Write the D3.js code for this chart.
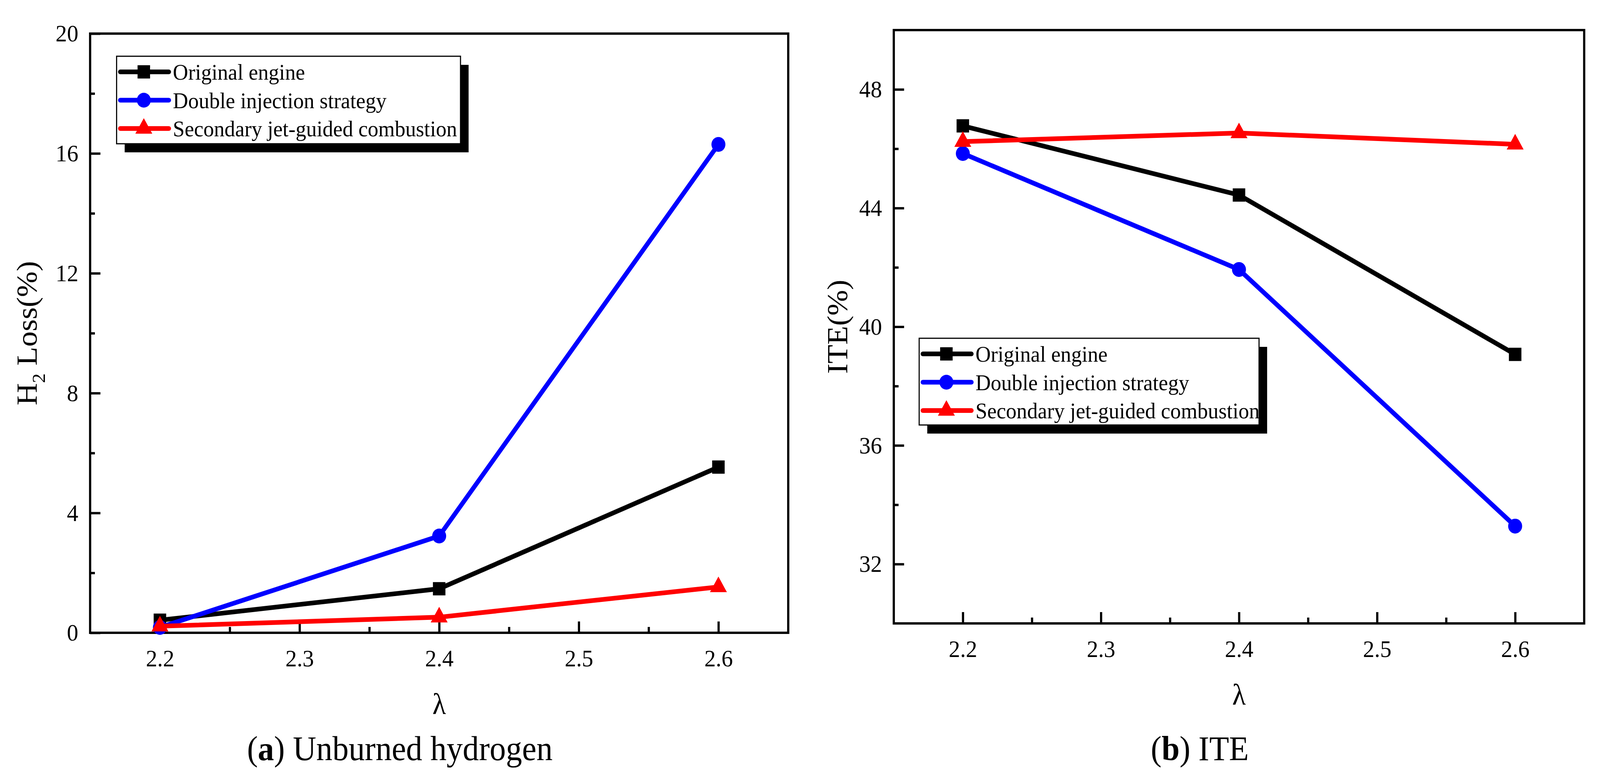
<!DOCTYPE html>
<html>
<head>
<meta charset="utf-8">
<script src="https://cdn.jsdelivr.net/npm/d3@7"></script>
<style>
  html, body { margin: 0; padding: 0; background: #fff; overflow: hidden; }
  svg { display: block; }
  text { font-family: 'Liberation Serif', 'Times New Roman', serif; fill: #000; }
</style>
</head>
<body>
<svg id="chart"></svg>
<script>
//data
const lambdaValues = [2.2, 2.4, 2.6]
const seriesNames = ['Original engine', 'Double injection strategy', 'Secondary jet-guided combustion']

// (a) unburned hydrogen, H2 loss in %
const h2Original = [0.42, 1.47, 5.53]
const h2Double = [0.18, 3.23, 16.3]
const h2Secondary = [0.22, 0.52, 1.53]

// (b) indicated thermal efficiency in %
const iteOriginal = [46.77, 44.44, 39.07]
const iteDouble = [45.84, 41.93, 33.28]
const iteSecondary = [46.24, 46.53, 46.15]

// tick labels
const lambdaTicks = [2.2, 2.3, 2.4, 2.5, 2.6]
const lambdaMinorTicks = [2.25, 2.35, 2.45, 2.55]
const h2Ticks = [0, 4, 8, 12, 16, 20]
const h2MinorTicks = [2, 6, 10, 14, 18]
const iteTicks = [32, 36, 40, 44, 48]
const iteMinorTicks = [34, 38, 42, 46]

// series styles
const seriesColor = d3.scaleOrdinal().domain(seriesNames).range(['#000000', '#0000ff', '#ff0000'])
const seriesSymbol = d3.scaleOrdinal().domain(seriesNames).range([d3.symbolSquare, d3.symbolCircle, d3.symbolTriangle])
const symbolSize = { 'Original engine': 1156, 'Double injection strategy': 1134, 'Secondary jet-guided combustion': 920 }

// the drawing is laid out on a 4350 x 2002 canvas and stretched to the window
const svg = d3.select('#chart')
  .attr('width', window.innerWidth)
  .attr('height', window.innerHeight)
  .attr('viewBox', '0 0 4350 2002')
  .attr('preserveAspectRatio', 'none')
svg.append('rect').attr('width', 4350).attr('height', 2002).attr('fill', '#fff')

const panels = [
  {
    left: 245, right: 2143, top: 86, bottom: 1620,
    yDomain: [0, 20], yTicks: h2Ticks, yMinor: h2MinorTicks,
    values: [h2Original, h2Double, h2Secondary],
    yLabelX: 100, yLabel: 'h2',
    legend: { x: 317, y: 144, w: 935, h: 224 },
    captionX: 1087, captionLetter: 'a', captionText: ' Unburned hydrogen'
  },
  {
    left: 2430, right: 4307, top: 77, bottom: 1596,
    yDomain: [30, 50], yTicks: iteTicks, yMinor: iteMinorTicks,
    values: [iteOriginal, iteDouble, iteSecondary],
    yLabelX: 2303, yLabel: 'ITE(%)',
    legend: { x: 2499, y: 866, w: 924, h: 222 },
    captionX: 3262, captionLetter: 'b', captionText: ' ITE'
  }
]

panels.forEach(drawPanel)

function drawPanel(p) {
  const g = svg.append('g')

  const x = d3.scaleLinear().domain([2.15, 2.65]).range([p.left, p.right])
  const y = d3.scaleLinear().domain(p.yDomain).range([p.bottom, p.top])

  // bottom axis, ticks pointing inside
  const xAxis = g.append('g')
    .attr('transform', 'translate(0,' + p.bottom + ')')
    .call(d3.axisBottom(x).tickValues(lambdaTicks).tickSizeInner(-29).tickSizeOuter(0).tickPadding(42).tickFormat(d3.format('.1f')))
  const xMinor = g.append('g')
    .attr('transform', 'translate(0,' + p.bottom + ')')
    .call(d3.axisBottom(x).tickValues(lambdaMinorTicks).tickSizeInner(-15).tickSizeOuter(0).tickFormat(''))

  // left axis
  const yAxis = g.append('g')
    .attr('transform', 'translate(' + p.left + ',0)')
    .call(d3.axisLeft(y).tickValues(p.yTicks).tickSizeInner(-28).tickSizeOuter(0).tickPadding(32))
  const yMinor = g.append('g')
    .attr('transform', 'translate(' + p.left + ',0)')
    .call(d3.axisLeft(y).tickValues(p.yMinor).tickSizeInner(-13).tickSizeOuter(0).tickFormat(''))

  ;[xAxis, xMinor, yAxis, yMinor].forEach(function (a) {
    a.attr('font-family', null)
    a.select('.domain').remove()
    a.selectAll('line').attr('stroke', '#000').attr('stroke-width', 6)
    a.selectAll('text').attr('font-size', 62).attr('font-family', "'Liberation Serif', serif")
  })

  // frame
  g.append('rect')
    .attr('x', p.left).attr('y', p.top)
    .attr('width', p.right - p.left).attr('height', p.bottom - p.top)
    .attr('fill', 'none').attr('stroke', '#000').attr('stroke-width', 6)

  // series lines + markers
  const line = d3.line()
    .x(function (d, i) { return x(lambdaValues[i]) })
    .y(function (d) { return y(d) })

  seriesNames.forEach(function (name, si) {
    const vals = p.values[si]
    g.append('path')
      .datum(vals)
      .attr('d', line)
      .attr('fill', 'none')
      .attr('stroke', seriesColor(name))
      .attr('stroke-width', 12)
      .attr('stroke-linejoin', 'round')

    g.selectAll('.marker-' + si)
      .data(vals)
      .enter()
      .append('path')
      .attr('class', 'marker-' + si)
      .attr('transform', function (d, i) { return 'translate(' + x(lambdaValues[i]) + ',' + y(d) + ')' })
      .attr('d', d3.symbol().type(seriesSymbol(name)).size(symbolSize[name]))
      .attr('fill', seriesColor(name))
  })

  // axis titles
  const yl = g.append('text')
    .attr('transform', 'translate(' + p.yLabelX + ',' + (p.top + p.bottom) / 2 + ') rotate(-90)')
    .attr('text-anchor', 'middle')
    .attr('font-size', 79)
  if (p.yLabel === 'h2') {
    yl.append('tspan').text('H')
    yl.append('tspan').attr('font-size', 50).attr('dy', 22).text('2')
    yl.append('tspan').attr('dy', -22).text(' Loss(%)')
  } else {
    yl.text(p.yLabel)
  }

  g.append('text')
    .attr('x', (p.left + p.right) / 2)
    .attr('y', p.bottom + 208)
    .attr('text-anchor', 'middle')
    .attr('font-size', 76)
    .text('λ')

  // legend with drop shadow
  const lg = g.append('g').attr('transform', 'translate(' + p.legend.x + ',' + p.legend.y + ')')
  lg.append('rect')
    .attr('x', 22).attr('y', 22)
    .attr('width', p.legend.w).attr('height', p.legend.h)
    .attr('fill', '#000')
  lg.append('rect')
    .attr('width', p.legend.w).attr('height', p.legend.h)
    .attr('fill', '#fff').attr('stroke', '#000').attr('stroke-width', 3)

  const rows = lg.selectAll('.legend-row')
    .data(seriesNames)
    .enter()
    .append('g')
    .attr('class', 'legend-row')
    .attr('transform', function (d, i) { return 'translate(0,' + (40 + i * 72.5) + ')' })
  rows.append('line')
    .attr('x1', 10).attr('x2', 142)
    .attr('stroke', function (d) { return seriesColor(d) })
    .attr('stroke-width', 12)
    .attr('stroke-linecap', 'round')
  rows.append('path')
    .attr('transform', 'translate(74,0)')
    .attr('d', function (d) { return d3.symbol().type(seriesSymbol(d)).size(symbolSize[d])() })
    .attr('fill', function (d) { return seriesColor(d) })
  rows.append('text')
    .attr('x', 153).attr('y', 20)
    .attr('font-size', 57.5)
    .text(function (d) { return d })

  // caption under the panel
  const cap = g.append('text')
    .attr('x', p.captionX).attr('y', 1946)
    .attr('text-anchor', 'middle')
    .attr('font-size', 88)
  cap.append('tspan').text('(')
  cap.append('tspan').attr('font-weight', 'bold').text(p.captionLetter)
  cap.append('tspan').text(')' + p.captionText)
}
</script>
</body>
</html>
